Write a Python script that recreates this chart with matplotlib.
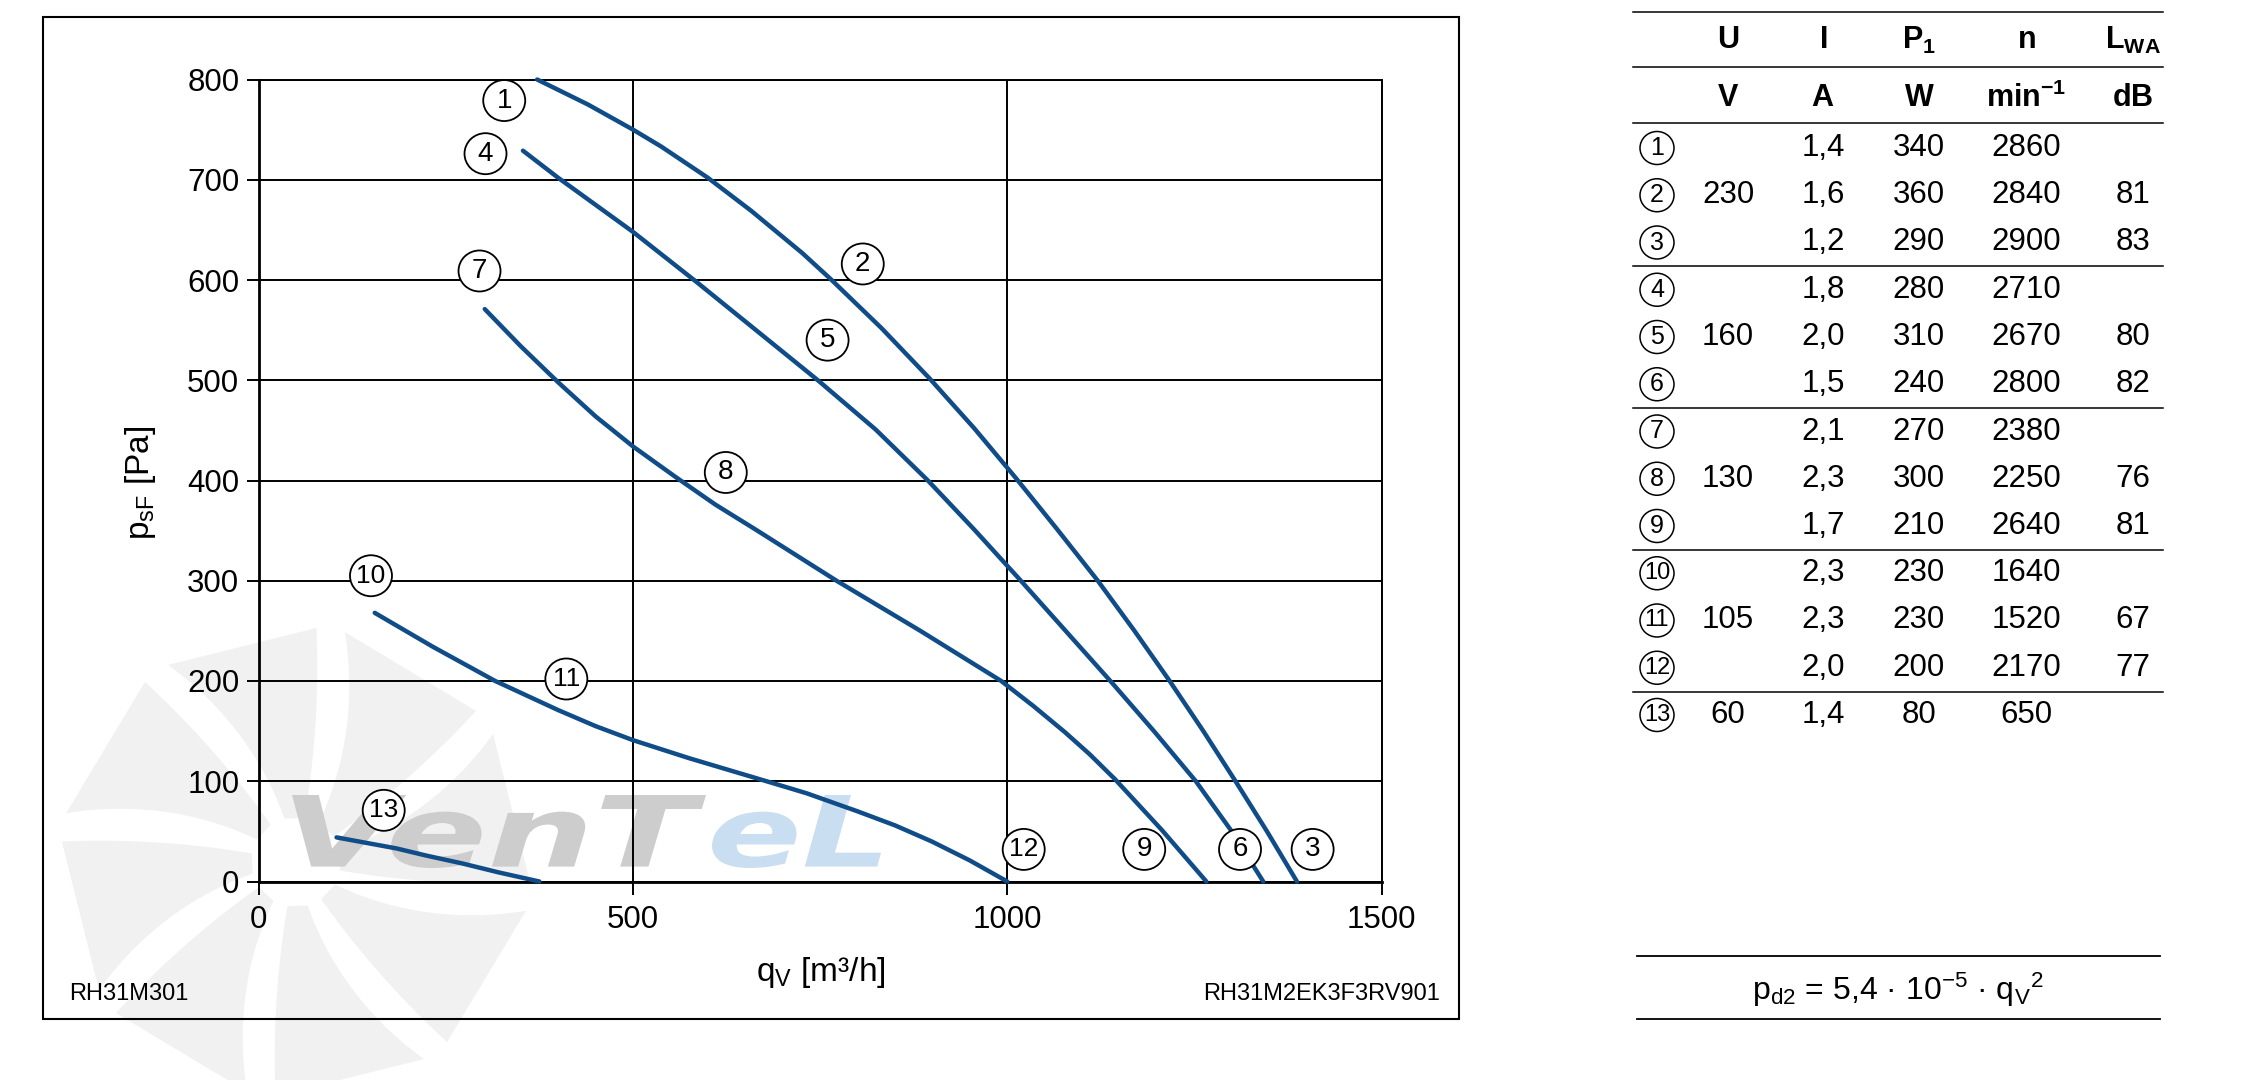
import matplotlib
matplotlib.use('Agg')
import matplotlib.pyplot as plt
import numpy as np
from matplotlib.patches import Ellipse, PathPatch, Polygon
from matplotlib.textpath import TextPath
from matplotlib.font_manager import FontProperties
from matplotlib.transforms import Affine2D

plt.rcParams['font.family'] = ['Liberation Sans', 'DejaVu Sans']
plt.rcParams['mathtext.fontset'] = 'custom'
plt.rcParams['mathtext.rm'] = 'Liberation Sans'
plt.rcParams['mathtext.it'] = 'Liberation Sans:italic'
plt.rcParams['mathtext.bf'] = 'Liberation Sans:bold'

# fan curves, q_V [m3/h] vs p_sF [Pa]
curve_1_q = [372, 440, 500, 538, 600, 658, 726, 764, 832, 896, 956, 1012, 1066, 1121, 1170, 1217, 1262, 1305, 1347, 1387]
curve_1_p = [800, 775, 750, 733, 702, 669, 627, 601, 552, 502, 452, 402, 352, 300, 250, 200, 150, 100, 50, 0]
curve_4_q = [353, 400, 500, 585, 666, 747, 824, 894, 956, 1017, 1078, 1139, 1196, 1252, 1298, 1342]
curve_4_p = [729, 702, 648, 598, 549, 500, 451, 400, 351, 301, 250, 199, 150, 100, 52, 0]
curve_7_q = [302, 350, 400, 450, 500, 556, 610, 664, 772, 884, 992, 1035, 1077, 1110, 1144, 1207, 1266]
curve_7_p = [571, 534, 498, 464, 434, 404, 376, 351, 300, 250, 200, 175, 149, 127, 102, 51, 0]
curve_10_q = [155, 233, 316, 400, 450, 500, 575, 674, 732, 800, 850, 899, 950, 1000]
curve_10_p = [268, 234, 200, 171, 155, 141, 123, 101, 88, 70, 56, 40, 21, 0]
curve_13_q = [104, 184, 223, 272, 321, 375]
curve_13_p = [44, 33, 26, 18, 9, 0]

# circled point labels on the chart
label_names = ['1', '2', '3', '4', '5', '6', '7', '8', '9', '10', '11', '12', '13']
label_q = [328, 807, 1408, 303, 760, 1311, 295, 624, 1183, 150, 411, 1022, 167]
label_p = [779, 616, 32, 726, 540, 32, 609, 408, 32, 305, 202, 32, 71]

# table
table_I = ['1,4', '1,6', '1,2', '1,8', '2,0', '1,5', '2,1', '2,3', '1,7', '2,3', '2,3', '2,0', '1,4']
table_P = ['340', '360', '290', '280', '310', '240', '270', '300', '210', '230', '230', '200', '80']
table_n = ['2860', '2840', '2900', '2710', '2670', '2800', '2380', '2250', '2640', '1640', '1520', '2170', '650']
table_L = ['', '81', '83', '', '80', '82', '', '76', '81', '', '67', '77', '']
voltages = ['230', '160', '130', '105', '60']
voltage_rows = [1, 4, 7, 10, 12]

W, H = 2266, 1080
fig = plt.figure(figsize=(W / 100, H / 100), dpi=100)

# background layer in pixel coordinates
bg = fig.add_axes([0, 0, 1, 1], zorder=0)
bg.set_xlim(0, W)
bg.set_ylim(H, 0)
bg.axis('off')

# faint fan watermark
cx, cy = 296, 862
for a0 in np.arange(15, 375, 45):
    rr = np.linspace(45, 235, 20)
    lead = np.radians(a0 + 18 * (rr - 45) / 190)
    trail = np.radians(a0 - 26 + 6 * (rr - 45) / 190)
    xs = np.concatenate([cx + rr * np.cos(lead), (cx + rr * np.cos(trail))[::-1]])
    ys = np.concatenate([cy - rr * np.sin(lead), (cy - rr * np.sin(trail))[::-1]])
    bg.add_patch(Polygon(np.column_stack([xs, ys]), closed=True, fc='#f1f1f1', ec='none'))

def logo_text(s, x0, x1, y0, y1, color):
    fp = FontProperties(family='DejaVu Sans', weight='bold', style='italic')
    tp = TextPath((0, 0), s, size=100, prop=fp)
    bb = tp.get_extents()
    tr = Affine2D().translate(-bb.x0, -bb.y0).scale((x1 - x0) / bb.width, -(y1 - y0) / bb.height).translate(x0, y1)
    bg.add_patch(PathPatch(tr.transform_path(tp), fc=color, ec='none'))

logo_text('VenT', 292, 706, 795, 868, '#cdcdcd')
logo_text('eL', 712, 881, 795, 868, '#c9def1')

# outer frame
bg.add_patch(plt.Rectangle((43, 17), 1416, 1002, fill=False, ec='black', lw=1.5))
bg.text(69, 994, 'RH31M301', fontsize=17, ha='left', va='center')
bg.text(1440, 994, 'RH31M2EK3F3RV901', fontsize=17, ha='right', va='center')

# chart
ax = fig.add_axes([258.7 / W, 1 - 881.5 / H, 1122.8 / W, 802 / H], zorder=1)
ax.set_facecolor('none')
ax.set_xlim(0, 1500)
ax.set_ylim(0, 800)
ax.set_xticks([0, 500, 1000, 1500])
ax.set_yticks(np.arange(0, 801, 100))
ax.grid(True, color='black', lw=1.4)
for sp in ax.spines.values():
    sp.set_linewidth(1.4)
ax.spines['left'].set_linewidth(2)
ax.spines['bottom'].set_linewidth(2)
ax.tick_params(direction='out', length=9, width=1.4, labelsize=22.5)
ax.tick_params(axis='y', pad=5)
ax.tick_params(axis='x', pad=8)

line_color = '#104d88'
for q, p in [(curve_1_q, curve_1_p), (curve_4_q, curve_4_p), (curve_7_q, curve_7_p),
             (curve_10_q, curve_10_p), (curve_13_q, curve_13_p)]:
    ax.plot(q, p, color=line_color, lw=3.2, solid_capstyle='round', solid_joinstyle='round',
            zorder=3, clip_on=False)

qpx = 1500 / 1122.8
ppx = 800 / 802
for name, q, p in zip(label_names, label_q, label_p):
    ax.add_patch(Ellipse((q, p), 42 * qpx, 41 * ppx, fc='white', ec='black', lw=1.3, zorder=4, clip_on=False))
    if len(name) == 1:
        ax.text(q, p, name, fontsize=20, ha='center', va='center', zorder=5)
    else:
        ax.text(q, p, name, fontsize=19, ha='center', va='center', zorder=5,
                family=['Liberation Sans Narrow', 'Liberation Sans'])

ax.set_xlabel(r'q$_\mathrm{V}$ [m³/h]', fontsize=24, va='center')
ax.xaxis.set_label_coords(0.5008, -0.113)
ax.set_ylabel(r'p$_\mathrm{sF}$ [Pa]', fontsize=24, va='center')
ax.yaxis.set_label_coords(-0.1057, 0.497)

# table on the right
col_x = [1657, 1728, 1823, 1919, 2026, 2133]
tx0, tx1 = 1633, 2163
for y in [11.7, 66.7, 123, 266, 408, 549.6, 691.6]:
    bg.plot([tx0, tx1], [y, y], color='black', lw=1.1)

head1 = [r'$\mathbf{U}$', r'$\mathbf{I}$', r'$\mathbf{P}_\mathbf{1}$', r'$\mathbf{n}$', r'$\mathbf{L}_\mathbf{WA}$']
head2 = [r'$\mathbf{V}$', r'$\mathbf{A}$', r'$\mathbf{W}$', r'$\mathbf{min}^\mathbf{-1}$', r'$\mathbf{dB}$']
for x, h1, h2 in zip(col_x[1:], head1, head2):
    bg.text(x, 40, h1, fontsize=22, ha='center', va='center')
    bg.text(x, 98, h2, fontsize=22, ha='center', va='center')

row_y = 148 + 47.25 * np.arange(13)
for i, y in enumerate(row_y):
    bg.add_patch(Ellipse((col_x[0], y), 34, 33, fc='white', ec='black', lw=1.1))
    name = label_names[i]
    if len(name) == 1:
        bg.text(col_x[0], y, name, fontsize=18, ha='center', va='center')
    else:
        bg.text(col_x[0], y, name, fontsize=17, ha='center', va='center',
                family=['Liberation Sans Narrow', 'Liberation Sans'])
    for x, val in zip(col_x[2:], [table_I[i], table_P[i], table_n[i], table_L[i]]):
        bg.text(x, y, val, fontsize=22.5, ha='center', va='center')
for v, r in zip(voltages, voltage_rows):
    bg.text(col_x[1], row_y[r], v, fontsize=22.5, ha='center', va='center')

# dynamic pressure formula
bg.plot([1637, 2160], [955.7, 955.7], color='black', lw=1.3)
bg.plot([1637, 2160], [1019.3, 1019.3], color='black', lw=1.3)
bg.text(1898, 990, r'p$_\mathrm{d2}$ = 5,4 · 10$^\mathrm{-5}$ · q$_\mathrm{V}$$^\mathrm{2}$', fontsize=23,
        ha='center', va='center')

fig.savefig('out.png', dpi=100)
